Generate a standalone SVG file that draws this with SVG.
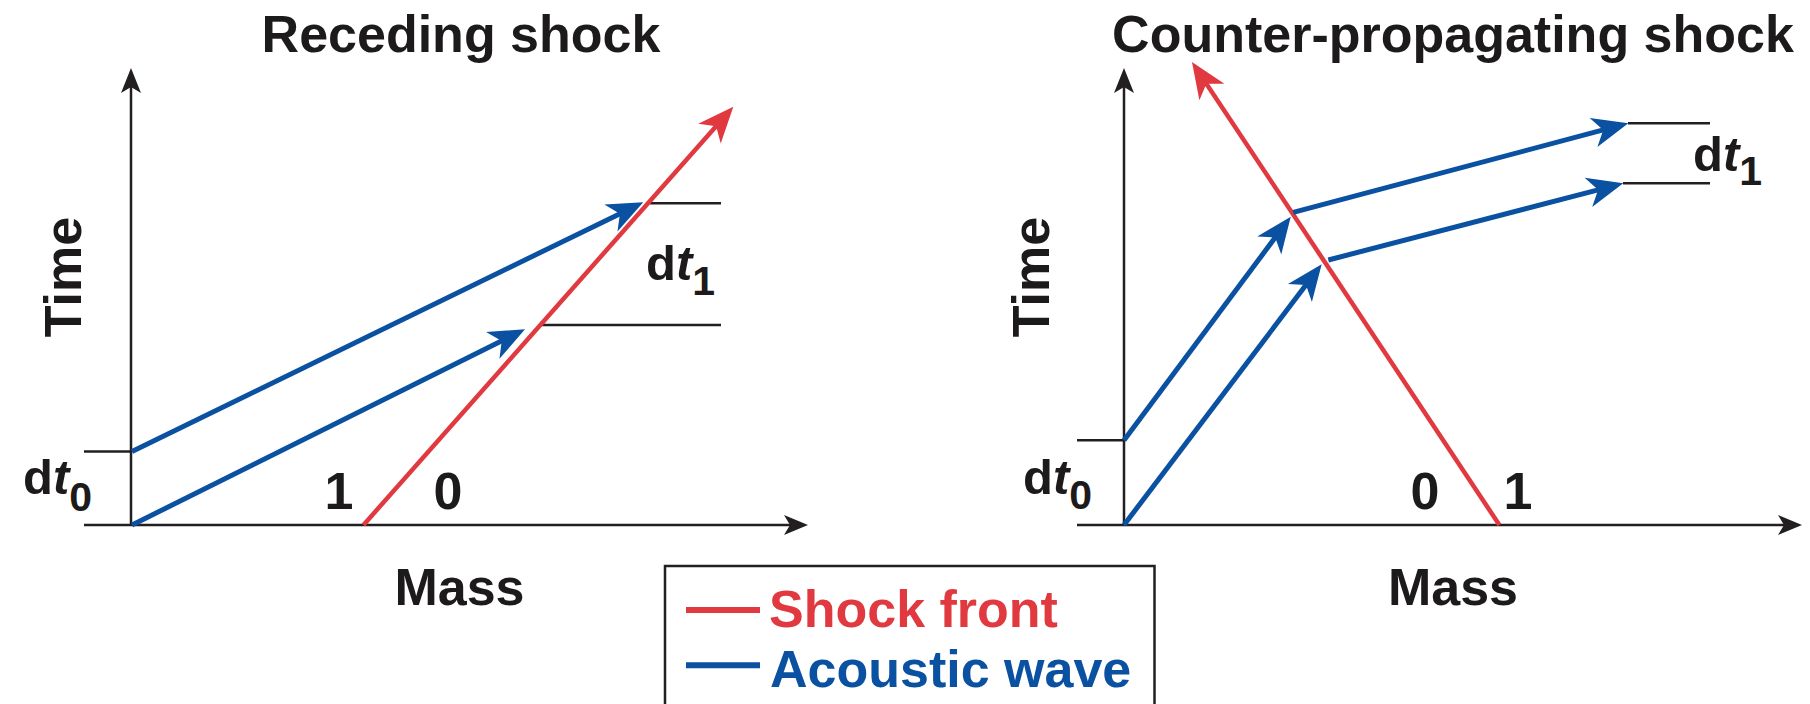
<svg xmlns="http://www.w3.org/2000/svg" width="1810" height="704" viewBox="0 0 1810 704">
<style>
text{font-family:"Liberation Sans",Arial,sans-serif;font-weight:bold;fill:#1d1a1b}
.title{font-size:52px;text-anchor:middle}
.lbl{font-size:52px;text-anchor:middle}
.dt{font-size:49px}
.it{font-style:italic}
.sub{font-size:41px}
.axis{stroke:#231f20;stroke-width:2.5;fill:none}
.tick{stroke:#231f20;stroke-width:2.5;fill:none}
.shock{stroke:#e03a40;stroke-width:4.5;fill:none}
.wave{stroke:#0a51a1;stroke-width:5;fill:none}
.ah{fill:#231f20}
</style>
<defs>
<marker id="mr" markerUnits="userSpaceOnUse" orient="auto" refX="0" refY="0" overflow="visible" markerWidth="1" markerHeight="1">
<path d="M23,0 L-13,-15 L-3,0 L-13,15 Z" fill="#e03a40"/>
</marker>
<marker id="mb" markerUnits="userSpaceOnUse" orient="auto" refX="0" refY="0" overflow="visible" markerWidth="1" markerHeight="1">
<path d="M23,0 L-13,-15 L-3,0 L-13,15 Z" fill="#0a51a1"/>
</marker>
</defs>

<g id="titles">
<text class="title" x="461" y="52">Receding shock</text>
<text class="title" x="1453" y="52">Counter-propagating shock</text>
</g>

<g id="left-axes">
<line class="axis" x1="131" y1="526" x2="131" y2="86"/>
<path class="ah" d="M131,68 L141,93 L131,87 L121,93 Z"/>
<line class="axis" x1="84" y1="525" x2="792" y2="525"/>
<path class="ah" d="M808,525 L784,535 L790,525 L784,515 Z"/>
<line class="tick" x1="84" y1="451.5" x2="131" y2="451.5"/>
<line class="tick" x1="542" y1="325" x2="721" y2="325"/>
<line class="tick" x1="650" y1="203.3" x2="721" y2="203.3"/>
</g>

<g id="right-axes">
<line class="axis" x1="1124" y1="526" x2="1124" y2="86"/>
<path class="ah" d="M1124,68 L1134,93 L1124,87 L1114,93 Z"/>
<line class="axis" x1="1077" y1="525" x2="1786" y2="525"/>
<path class="ah" d="M1802,525 L1778,535 L1784,525 L1778,515 Z"/>
<line class="tick" x1="1077" y1="440.3" x2="1124" y2="440.3"/>
<line class="tick" x1="1628" y1="123.3" x2="1710" y2="123.3"/>
<line class="tick" x1="1623" y1="183.3" x2="1710" y2="183.3"/>
</g>

<g id="connectors">
<line id="left-shock" class="shock" x1="363.5" y1="525" x2="718.1" y2="123.9" marker-end="url(#mr)"/>
<line id="left-wave-lower" class="wave" x1="132" y1="525" x2="504.4" y2="339.6" marker-end="url(#mb)"/>
<line id="left-wave-upper" class="wave" x1="132" y1="451.5" x2="622.6" y2="212.4" marker-end="url(#mb)"/>
<line id="right-shock" class="shock" x1="1499.4" y1="525" x2="1204.7" y2="81.2" marker-end="url(#mr)"/>
<line id="right-wave-upper-a" class="wave" x1="1124" y1="440.3" x2="1277" y2="235.1" marker-end="url(#mb)"/>
<line id="right-wave-upper-b" class="wave" x1="1293.3" y1="212.3" x2="1606.1" y2="129.2" marker-end="url(#mb)"/>
<line id="right-wave-lower-a" class="wave" x1="1124" y1="525" x2="1307.8" y2="282.6" marker-end="url(#mb)"/>
<line id="right-wave-lower-b" class="wave" x1="1328.3" y1="260" x2="1601" y2="189.1" marker-end="url(#mb)"/>
</g>

<g id="left-labels">
<text class="lbl" transform="translate(81,277) rotate(-90)">Time</text>
<text class="lbl" x="459.5" y="605">Mass</text>
<text class="lbl" x="339" y="509">1</text>
<text class="lbl" x="448" y="509">0</text>
<text class="dt" x="23" y="494">d<tspan class="it">t</tspan><tspan class="sub" dy="17">0</tspan></text>
<text class="dt" x="646" y="280">d<tspan class="it">t</tspan><tspan class="sub" dy="15">1</tspan></text>
</g>

<g id="right-labels">
<text class="lbl" transform="translate(1049,277) rotate(-90)">Time</text>
<text class="lbl" x="1453" y="605">Mass</text>
<text class="lbl" x="1425" y="509">0</text>
<text class="lbl" x="1518" y="509">1</text>
<text class="dt" x="1023" y="494">d<tspan class="it">t</tspan><tspan class="sub" dy="15">0</tspan></text>
<text class="dt" x="1693" y="171">d<tspan class="it">t</tspan><tspan class="sub" dy="14">1</tspan></text>
</g>

<g id="legend">
<rect x="665" y="566" width="489.5" height="160" fill="none" stroke="#231f20" stroke-width="2.5"/>
<line x1="686" y1="610" x2="760" y2="610" stroke="#e03a40" stroke-width="6"/>
<text x="769" y="627" font-size="52" style="fill:#e03a40">Shock front</text>
<line x1="686" y1="665.3" x2="760" y2="665.3" stroke="#0a51a1" stroke-width="6"/>
<text x="770" y="687" font-size="52" style="fill:#0a51a1">Acoustic wave</text>
</g>
</svg>
